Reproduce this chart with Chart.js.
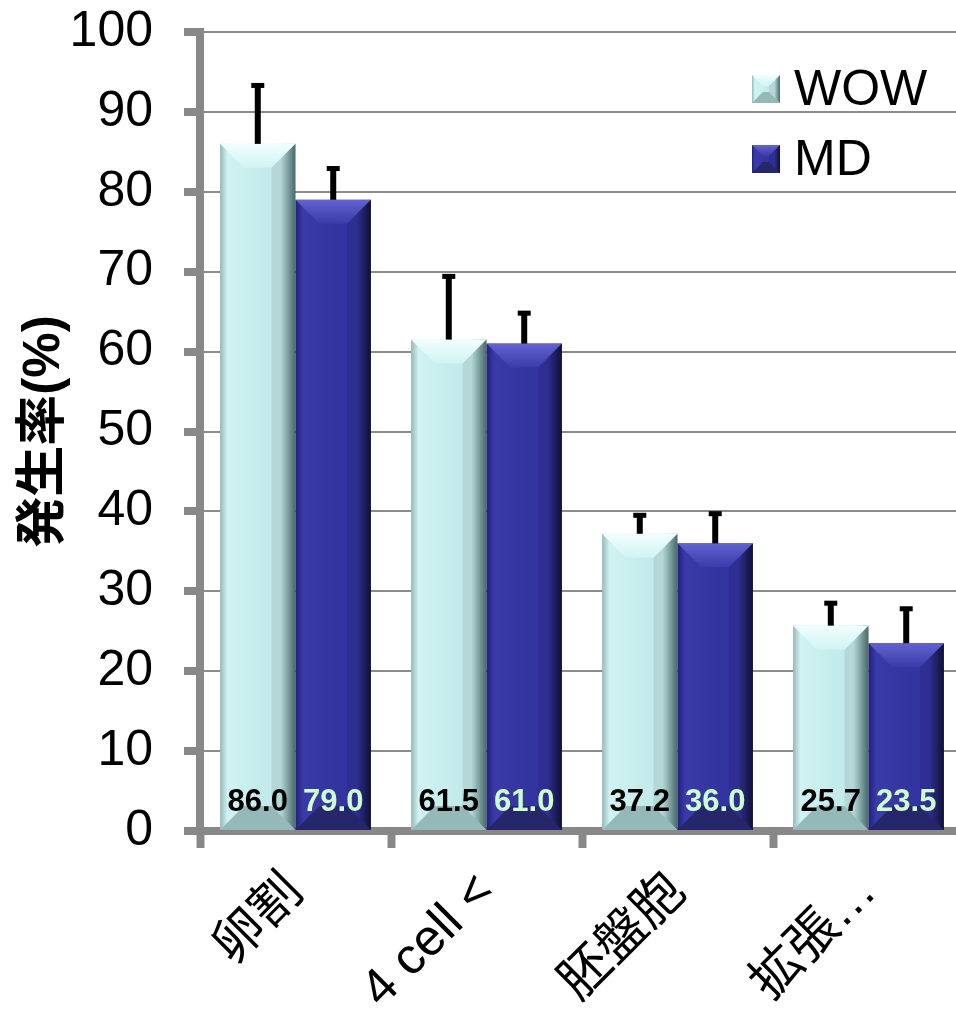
<!DOCTYPE html>
<html>
<head>
<meta charset="utf-8">
<script src="https://cdn.jsdelivr.net/npm/chart.js@4.4.0/dist/chart.umd.min.js"></script>
<style>
    html, body { margin: 0; padding: 0; background: #fff; overflow: hidden; }
    #wrap { width: 966px; height: 1013px; }
</style>
</head>
<body>
<div id="wrap"><canvas id="barChart" width="966" height="1013"></canvas></div>
<script>
    const categories = ['卵割', '4 cell <', '胚盤胞', '拡張…'];
    const seriesNames = ['WOW', 'MD'];
    const wowValues = [86.0, 61.5, 37.2, 25.7];
    const mdValues = [79.0, 61.0, 36.0, 23.5];
    const wowErrors = [7.5, 8.1, 2.5, 3.0];
    const mdErrors = [4.1, 4.0, 3.9, 4.5];
    const yTicks = [0, 10, 20, 30, 40, 50, 60, 70, 80, 90, 100];

    const FONT = "'Liberation Sans', Arial, 'Noto Sans CJK JP', sans-serif";

    // colors for the bevelled bars
    const palette = {
        WOW: { edge: '#98b8b8', face: '#c4ebeb', light: '#d0f3f3', dark: '#4f7272', top: '#f2fefe', bottom: '#95b9b9', label: '#000000' },
        MD:  { edge: '#20207a', face: '#3434a0', light: '#3a3aa8', dark: '#12123c', top: '#6262d0', bottom: '#26266a', label: '#ccffcc' }
    };

    // ---------------- Helper: bevelled box ----------------
    function drawBevelBox(ctx, left, top, right, bottom, pal, b) {
        const w = right - left;
        const g = ctx.createLinearGradient(left, 0, right, 0);
        g.addColorStop(0, pal.edge);
        g.addColorStop(0.1, pal.light);
        g.addColorStop(0.55, pal.face);
        g.addColorStop(0.8, pal.face);
        g.addColorStop(1, pal.dark);
        ctx.fillStyle = g;
        ctx.fillRect(left, top, w, bottom - top);

        // top bevel
        const gt = ctx.createLinearGradient(0, top, 0, top + b);
        gt.addColorStop(0, pal.top);
        gt.addColorStop(1, pal.light);
        ctx.fillStyle = gt;
        ctx.beginPath();
        ctx.moveTo(left, top);
        ctx.lineTo(right, top);
        ctx.lineTo(right - b, top + b);
        ctx.lineTo(left + b, top + b);
        ctx.closePath();
        ctx.fill();

        // right side shade
        ctx.fillStyle = 'rgba(0,0,0,0.08)';
        ctx.beginPath();
        ctx.moveTo(right, top);
        ctx.lineTo(right - b, top + b);
        ctx.lineTo(right - b, bottom - b);
        ctx.lineTo(right, bottom);
        ctx.closePath();
        ctx.fill();

        // bottom bevel
        ctx.fillStyle = pal.bottom;
        ctx.beginPath();
        ctx.moveTo(left, bottom);
        ctx.lineTo(right, bottom);
        ctx.lineTo(right - b, bottom - b);
        ctx.lineTo(left + b, bottom - b);
        ctx.closePath();
        ctx.fill();
    }

    // ---------------- Plugin: bevel, error bars, labels, legend ----------------
    const decorPlugin = {
        id: 'decor',
        afterDatasetsDraw(chart) {
            const ctx = chart.ctx;
            const yScale = chart.scales.y;
            ctx.save();
            chart.data.datasets.forEach((ds, di) => {
                const pal = palette[ds.label];
                const meta = chart.getDatasetMeta(di);
                meta.data.forEach((bar, i) => {
                    const left = bar.x - bar.width / 2;
                    const right = bar.x + bar.width / 2;
                    const top = bar.y;
                    const bottom = bar.base;
                    const b = Math.min(24, (bottom - top) / 2, bar.width / 3);
                    drawBevelBox(ctx, left, top, right, bottom, pal, b);

                    // error bar (upper only)
                    const yErr = yScale.getPixelForValue(ds.data[i] + ds.errors[i]);
                    ctx.strokeStyle = '#000';
                    ctx.lineWidth = 6;
                    ctx.beginPath();
                    ctx.moveTo(bar.x, top);
                    ctx.lineTo(bar.x, yErr);
                    ctx.stroke();
                    ctx.fillStyle = '#000';
                    ctx.fillRect(bar.x - 6.5, yErr - 1, 13, 5);

                    // value label near the bottom of the bar
                    ctx.fillStyle = pal.label;
                    ctx.font = 'bold 31px ' + FONT;
                    ctx.textAlign = 'center';
                    ctx.textBaseline = 'middle';
                    ctx.fillText(ds.data[i].toFixed(1), bar.x, bottom - 28);
                });
            });

            // legend, top right inside the plot area
            const area = chart.chartArea;
            chart.data.datasets.forEach((ds, di) => {
                const pal = palette[ds.label];
                const sx = area.right - 212;
                const sy = area.top + 43 + di * 70;
                drawBevelBox(ctx, sx, sy, sx + 28, sy + 28, pal, 11);
                ctx.fillStyle = '#000';
                ctx.font = '50px ' + FONT;
                ctx.textAlign = 'left';
                ctx.textBaseline = 'middle';
                ctx.fillText(ds.label, sx + 42, sy + 16);
            });
            ctx.restore();
        }
    };

    const barCtx = document.getElementById('barChart').getContext('2d');
    new Chart(barCtx, {
        type: 'bar',
        data: {
            labels: categories,
            datasets: [
                { label: seriesNames[0], data: wowValues, errors: wowErrors, backgroundColor: 'rgba(0,0,0,0)' },
                { label: seriesNames[1], data: mdValues, errors: mdErrors, backgroundColor: 'rgba(0,0,0,0)' }
            ]
        },
        options: {
            responsive: false,
            animation: false,
            devicePixelRatio: 1,
            layout: { autoPadding: false, padding: { top: 32, right: 2, left: 14, bottom: 0 } },
            categoryPercentage: 0.79,
            barPercentage: 1.0,
            plugins: {
                legend: { display: false },
                tooltip: { enabled: false }
            },
            scales: {
                x: {
                    offset: true,
                    afterFit(scale) { scale.height = 182; },
                    grid: {
                        offset: true,
                        drawOnChartArea: false,
                        tickLength: 17,
                        tickWidth: 8,
                        tickColor: '#888888'
                    },
                    border: { display: true, width: 8, color: '#888888' },
                    ticks: {
                        color: '#000',
                        font: { family: FONT, size: 51 },
                        minRotation: 45,
                        maxRotation: 45,
                        padding: 14,
                        autoSkip: false
                    }
                },
                y: {
                    min: 0,
                    max: 100,
                    afterFit(scale) {
                        scale.width = 186;
                        scale.paddingTop = 0;
                        scale.paddingBottom = 0;
                    },
                    afterBuildTicks(scale) { scale.ticks = yTicks.map(v => ({ value: v })); },
                    grid: {
                        color: '#8c8c8c',
                        lineWidth: 2,
                        tickLength: 16,
                        tickWidth: 8,
                        tickColor: '#888888'
                    },
                    border: { display: true, width: 8, color: '#888888' },
                    ticks: {
                        color: '#000',
                        font: { family: FONT, size: 50 },
                        padding: 31
                    },
                    title: {
                        display: true,
                        text: '発生率(%)',
                        color: '#000',
                        font: { family: FONT, size: 51, weight: 'bold' },
                        padding: 0
                    }
                }
            }
        },
        plugins: [decorPlugin]
    });
</script>
</body>
</html>
